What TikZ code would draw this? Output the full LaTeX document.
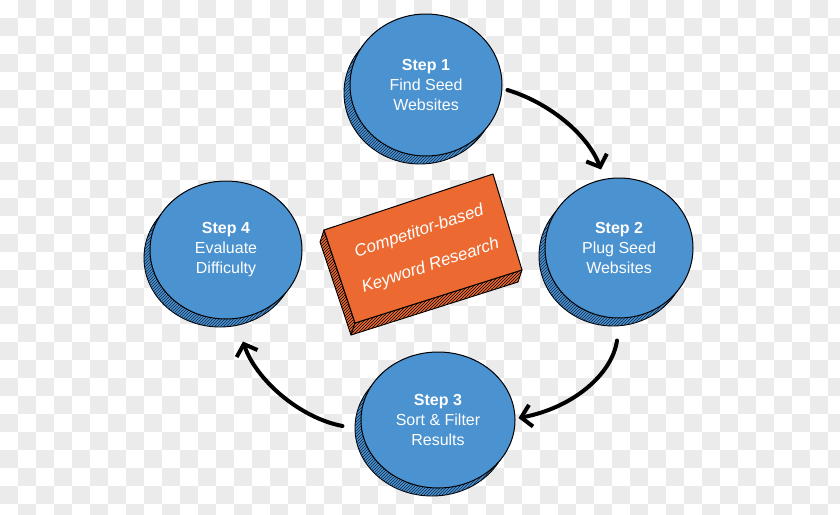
\documentclass[tikz,border=0pt]{standalone}
\usepackage{fontspec}
\setmainfont{Liberation Sans}
\usetikzlibrary{shapes.geometric,arrows.meta,patterns,calc}
\definecolor{stepblue}{RGB}{74,146,208}
\definecolor{hatchnavy}{RGB}{18,38,68}
\definecolor{boxorange}{RGB}{236,106,49}
\definecolor{checkgray}{RGB}{235,235,235}
\tikzset{
  stepc/.style={ellipse, draw=black, line width=1pt, fill=stepblue, inner sep=0pt,
    text=white, align=center, font=\fontsize{16}{20}\selectfont},
  shadowc/.style={ellipse, draw=black, line width=0.9pt, fill=stepblue, inner sep=0pt,
    postaction={pattern=north east lines, pattern color=hatchnavy}},
  flowarrow/.style={line width=4pt, line cap=round, draw=black,
    -{Straight Barb[length=10pt,width=22pt,line width=4pt]}},
  boxside/.style={fill=boxorange, draw=black, line width=0.9pt, line join=round,
    postaction={pattern=north east lines, pattern color=black}},
  boxface/.style={fill=boxorange, draw=black, line width=1pt, line join=round}
}
\newcommand{\stepnode}[6]{%
  \node[shadowc, minimum width=#3, minimum height=#4] (sh#1) at ($(#2)+(-6,8)$) {};
  \node[stepc, minimum width=#3, minimum height=#4] (s#1) at (#2) {\textbf{Step #1}\\#5\\#6};
}
\begin{document}
\begin{tikzpicture}[x=1pt,y=-1pt]
\useasboundingbox (0,0) rectangle (840,514);
\fill[white] (0,0) rectangle (840,514);
% transparency checkerboard
\foreach \j in {0,...,28}{
  \pgfmathtruncatemacro\st{mod(\j+1,2)}
  \pgfmathtruncatemacro\nx{\st+2}
  \foreach \i in {\st,\nx,...,46}{
    \fill[checkgray] (\i*18,\j*18) rectangle ++(18,18);
  }
}
% circle centres
\coordinate (c1) at (426,85);
\coordinate (c2) at (619,248);
\coordinate (c3) at (438,420);
\coordinate (c4) at (226,250);
\stepnode{1}{c1}{152pt}{142pt}{Find Seed}{Websites}
\stepnode{2}{c2}{148pt}{140pt}{Plug Seed}{Websites}
\stepnode{3}{c3}{154pt}{136pt}{Sort \& Filter}{Results}
\stepnode{4}{c4}{152pt}{138pt}{Evaluate}{Difficulty}
% central box
\coordinate (bTL) at (324,230);
\coordinate (bTR) at (493,174);
\coordinate (bBR) at (522,270);
\coordinate (bBL) at (355,323);
\draw[boxside] (bTL) -- (bBL) -- ($(bBL)+(-4,12)$) -- ($(bTL)+(-4,12)$) -- cycle;
\draw[boxside] (bBL) -- (bBR) -- ($(bBR)+(-4,12)$) -- ($(bBL)+(-4,12)$) -- cycle;
\draw[boxface] (bTL) -- (bTR) -- (bBR) -- (bBL) -- cycle;
\node[text=white, align=center, rotate=18.3, font=\fontsize{17}{36}\selectfont\itshape] (title)
  at (425,249) {Competitor-based\\Keyword Research};
% arrows
\draw[flowarrow] ($(s1.east)+(5,5)$) .. controls (550,103) and (588,135) .. ($(s2.north)+(-18,-8)$);
\draw[flowarrow] ($(s2.south)+(-2,22)$) .. controls (612,375) and (572,408) .. ($(s3.east)+(3,-2)$);
\draw[flowarrow] ($(s3.west)+(-18,6)$) .. controls (300,418) and (256,380) .. ($(s4.south)+(17,22)$);
\end{tikzpicture}
\end{document}
